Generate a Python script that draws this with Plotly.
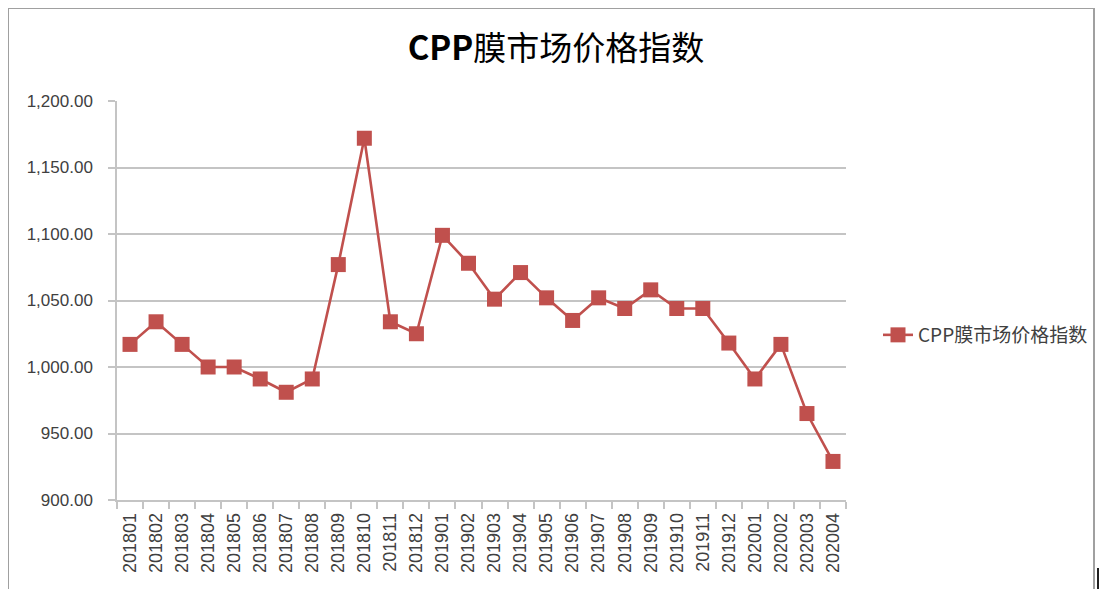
import plotly.graph_objects as go

months = ["201801", "201802", "201803", "201804", "201805", "201806", "201807",
          "201808", "201809", "201810", "201811", "201812", "201901", "201902",
          "201903", "201904", "201905", "201906", "201907", "201908", "201909",
          "201910", "201911", "201912", "202001", "202002", "202003", "202004"]
index_values = [1017, 1034, 1017, 1000, 1000, 991, 981,
                991, 1077, 1172, 1034, 1025, 1099, 1078,
                1051, 1071, 1052, 1035, 1052, 1044, 1058,
                1044, 1044, 1018, 991, 1017, 965, 929]
series_name = "CPP膜市场价格指数"
y_ticks = [900, 950, 1000, 1050, 1100, 1150, 1200]

# page body has an 8px margin; work in page pixels and shift
OFF = 8
W, H = 1107 - OFF, 589 - OFF
L, R, T, B = 117 - OFF, 846 - OFF, 101 - OFF, 500 - OFF

def px(x):
    return (x - OFF - L) / (R - L)

def py(y):
    return (B - (y - OFF)) / (B - T)

red = "#C0504D"
grid = "#C4C4C4"
txt = "#404040"

fig = go.Figure()
fig.add_trace(go.Scatter(
    x=months, y=index_values, name=series_name, mode="lines+markers",
    line=dict(color=red, width=2.6),
    marker=dict(symbol="square", size=15, color=red, line=dict(color=red, width=0)),
))

fig.update_layout(
    width=W, height=H,
    margin=dict(l=L, r=W - R, t=T, b=H - B, pad=0),
    paper_bgcolor="white", plot_bgcolor="white",
    title=dict(text="<b>CPP</b>膜市场价格指数", x=(556 - OFF) / W, xanchor="center",
               y=1 - (48 - OFF) / H, yanchor="middle",
               font=dict(family="Noto Sans CJK SC", size=33, color="#000000")),
    showlegend=True,
    legend=dict(x=px(878), y=py(335), xanchor="left", yanchor="middle",
                font=dict(family="Noto Sans CJK SC", size=19, color=txt),
                bgcolor="rgba(0,0,0,0)"),
    font=dict(family="Liberation Sans", color=txt),
)

fig.update_xaxes(
    type="category", tickangle=-90, tickson="boundaries",
    ticks="outside", ticklen=7, tickcolor=grid, tickwidth=1.5,
    showline=True, linecolor=grid, linewidth=1.5,
    showgrid=False, ticklabelstandoff=4,
    tickfont=dict(family="Liberation Sans", size=18, color=txt),
    range=[-0.5, len(months) - 0.5],
)
fig.update_yaxes(
    range=[900, 1200], tickvals=y_ticks, tickformat=",.2f",
    ticks="outside", ticklen=7, tickcolor=grid, tickwidth=1.5,
    showline=True, linecolor=grid, linewidth=1.5,
    showgrid=True, gridcolor=grid, gridwidth=1.5,
    zeroline=False, ticklabelstandoff=12,
    tickfont=dict(family="Liberation Sans", size=17, color=txt),
)

# outer chart frame
fig.add_shape(type="rect", xref="paper", yref="paper",
              x0=px(8), x1=px(1094), y0=py(600), y1=py(8),
              line=dict(color="#A0A0A0", width=2), fillcolor="rgba(0,0,0,0)",
              layer="below")
fig.add_shape(type="line", xref="paper", yref="paper",
              x0=px(1098), x1=px(1098), y0=py(568), y1=py(590),
              line=dict(color="#202020", width=2))

fig.write_html("out.html")
